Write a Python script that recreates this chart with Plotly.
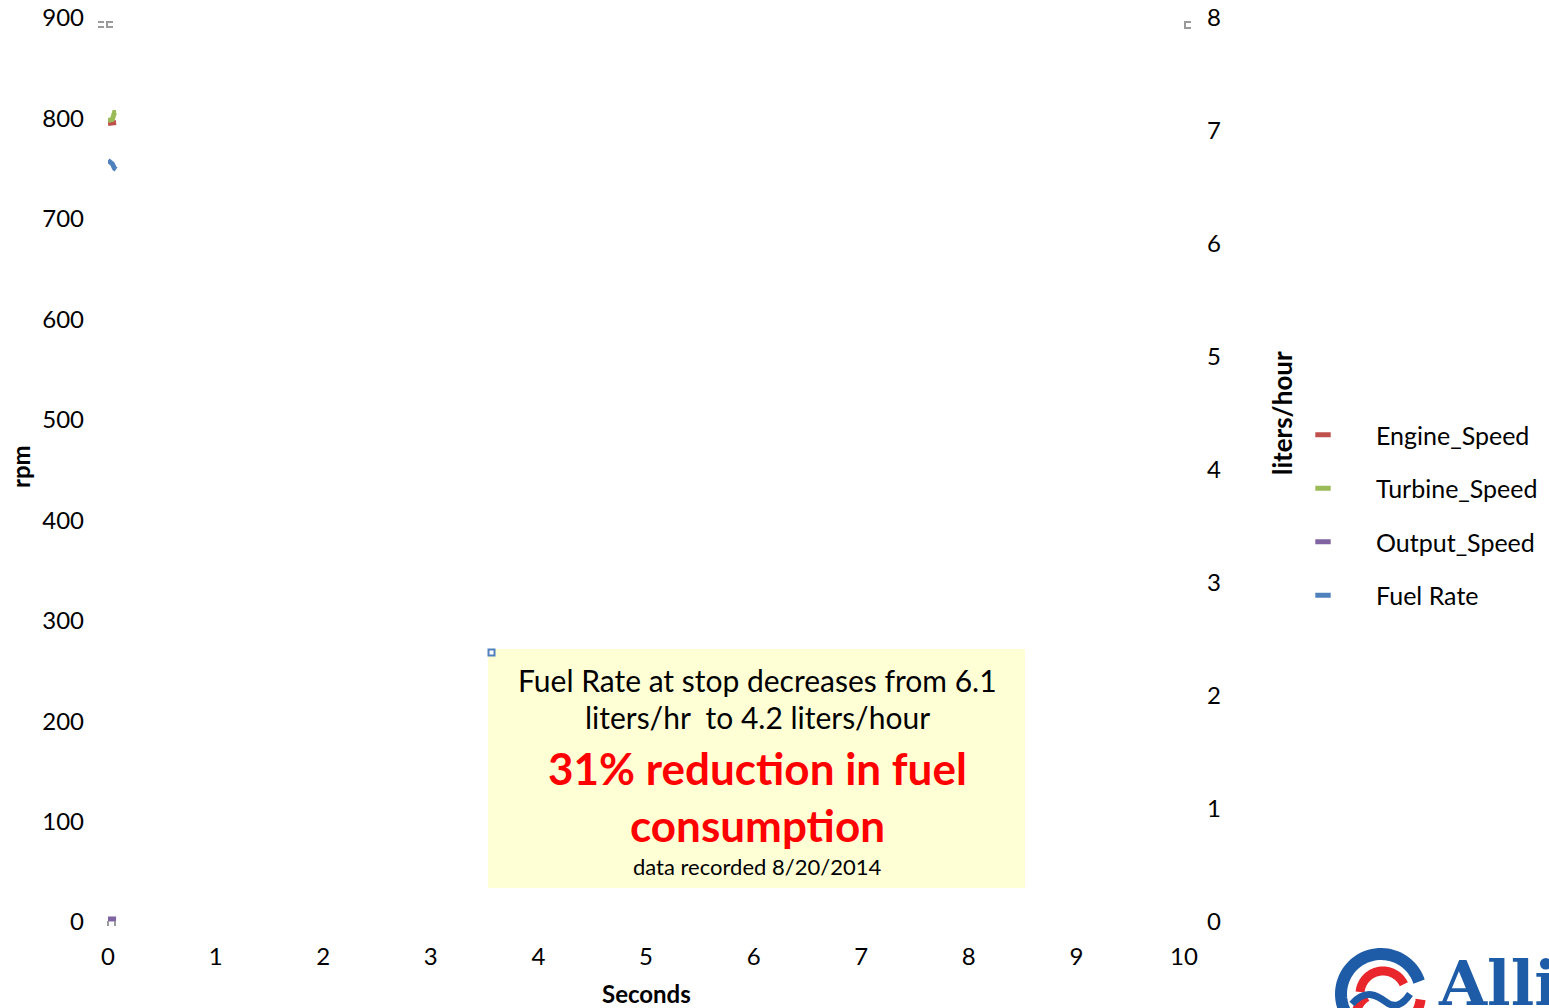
import numpy as np
import plotly.graph_objects as go

# ---- data -------------------------------------------------------------
seconds = [0.0, 0.02, 0.04, 0.06, 0.075]
engine_speed = [795, 795, 795, 796, 796]
turbine_speed = [798, 798, 799, 806, 806]
output_speed = [3, 3, 3, 3, 3]
fuel_rate = [6.74, 6.73, 6.71, 6.67, 6.66]

series_names = ["Engine_Speed", "Turbine_Speed", "Output_Speed", "Fuel Rate"]
series_colors = ["#C0504D", "#9BBB59", "#8064A2", "#4F81BD"]

rpm_ticks = list(range(0, 901, 100))
lph_ticks = list(range(0, 9))
sec_ticks = list(range(0, 11))

# ---- page geometry (pixels) ------------------------------------------
W, H = 1549, 1008
PL, PR, PT, PB = 108, 1184, 18, 922


def px(x):
    return (x - PL) / (PR - PL)


def py(y):
    return (PB - y) / (PB - PT)


FONT = "Lato"

fig = go.Figure()

values = [engine_speed, turbine_speed, output_speed, fuel_rate]
axes = ["y", "y", "y", "y2"]
for name, color, vals, ax in zip(series_names, series_colors, values, axes):
    fig.add_trace(go.Scatter(
        x=seconds, y=vals, name=name, yaxis=ax, mode="lines",
        line=dict(color=color, width=5), legendgroup=name,
        showlegend=False, hoverinfo="x+y+name",
    ))
    # short dash used as the legend key
    fig.add_trace(go.Scatter(
        x=[None], y=[None], name=name, yaxis=ax, mode="markers",
        marker=dict(symbol="line-ew", size=11,
                    line=dict(color=color, width=5)),
        legendgroup=name, showlegend=True,
    ))

axis_font = dict(family=FONT, size=24, color="#000000")

fig.update_layout(
    width=W, height=H,
    margin=dict(l=PL, r=W - PR, t=PT, b=H - PB, pad=0, autoexpand=False),
    paper_bgcolor="white", plot_bgcolor="white",
    font=dict(family=FONT, size=24, color="#000000"),
    xaxis=dict(range=[0, 10], tickvals=sec_ticks, showgrid=False,
               zeroline=False, showline=False, ticks="", automargin=False,
               tickfont=axis_font, ticklabelstandoff=18),
    yaxis=dict(range=[0, 900], tickvals=rpm_ticks, showgrid=False,
               zeroline=False, showline=False, ticks="", automargin=False,
               tickfont=axis_font, ticklabelstandoff=23),
    yaxis2=dict(range=[0, 8], tickvals=lph_ticks, overlaying="y",
                side="right", showgrid=False, zeroline=False,
                showline=False, ticks="", tickfont=axis_font,
                automargin=False, ticklabelstandoff=22),
    legend=dict(x=px(1270), y=py(412), xanchor="left", yanchor="top",
                font=dict(family=FONT, size=25, color="#000000"),
                itemwidth=96, traceorder="grouped", tracegroupgap=18,
                bgcolor="rgba(0,0,0,0)", borderwidth=0),
    showlegend=True,
)

annotations = [
    # axis titles
    dict(text="<b>rpm</b>", x=px(20), y=py(467), textangle=-90,
         font=dict(family=FONT, size=24)),
    dict(text="<b>liters/hour</b>", x=px(1282), y=py(413), textangle=-90,
         font=dict(family=FONT, size=26)),
    dict(text="<b>Seconds</b>", x=px(646), y=py(994),
         font=dict(family=FONT, size=24)),
    # call-out text
    dict(text="Fuel Rate at stop decreases from 6.1", x=px(757), y=py(680),
         font=dict(family=FONT, size=30)),
    dict(text="liters/hr  to 4.2 liters/hour", x=px(757), y=py(717),
         font=dict(family=FONT, size=30)),
    dict(text="<b>31% reduction in fuel</b>", x=px(757), y=py(768),
         font=dict(family=FONT, size=44, color="#FF0000")),
    dict(text="<b>consumption</b>", x=px(757), y=py(825),
         font=dict(family=FONT, size=44, color="#FF0000")),
    dict(text="data recorded 8/20/2014", x=px(757), y=py(866),
         font=dict(family=FONT, size=22)),
    # brand text
    dict(text="<b>Allison</b>", x=px(1436), y=py(983), xanchor="left",
         font=dict(family="DejaVu Serif", size=62, color="#1F5CA8")),
]
for a in annotations:
    a.setdefault("xanchor", "center")
    a.update(xref="paper", yref="paper", showarrow=False, yanchor="middle")
fig.update_layout(annotations=annotations)

shapes = []
# call-out box
shapes.append(dict(type="rect", xref="paper", yref="paper",
                   x0=px(488), x1=px(1025), y0=py(888), y1=py(649),
                   fillcolor="#FFFFD6", line=dict(width=0), layer="below"))
shapes.append(dict(type="rect", xref="paper", yref="paper",
                   x0=px(488.5), x1=px(494.5), y0=py(655.5), y1=py(649.5),
                   fillcolor="white", line=dict(color="#4F81BD", width=2)))


def poly_path(points):
    return "M " + " L ".join(f"{px(x):.5f},{py(y):.5f}" for x, y in points)


def arc_path(cx, cy, r, a0, a1, n=48):
    ang = np.radians(np.linspace(a0, a1, n))
    return poly_path(zip(cx + r * np.cos(ang), cy - r * np.sin(ang)))


# small gray handle marks
gray = dict(color="#9A9A9A", width=2)
for pts in [
    [(98, 22), (104, 22)], [(98, 27), (104, 27)],
    [(113, 22), (107, 22), (107, 27), (113, 27)],
    [(1191, 22), (1185, 22), (1185, 28), (1191, 28)],
    [(108, 921), (108, 926)], [(115, 921), (115, 926)],
]:
    shapes.append(dict(type="path", xref="paper", yref="paper",
                       path=poly_path(pts), line=gray))

# emblem
cx, cy = 1381, 994
shapes.append(dict(type="path", xref="paper", yref="paper",
                   path=arc_path(cx, cy, 40, 18, 215),
                   line=dict(color="#1F5CA8", width=12)))
shapes.append(dict(type="path", xref="paper", yref="paper",
                   path=arc_path(cx, cy, 40, -8, -70),
                   line=dict(color="#E8262B", width=10)))
shapes.append(dict(type="path", xref="paper", yref="paper",
                   path=arc_path(cx + 2, cy, 23, 25, 175),
                   line=dict(color="#E8262B", width=9)))
shapes.append(dict(type="path", xref="paper", yref="paper",
                   path=arc_path(cx - 3, cy + 22, 22, 120, 200),
                   line=dict(color="#E8262B", width=9)))
shapes.append(dict(type="path", xref="paper", yref="paper",
                   path=(f"M {px(1352):.5f},{py(1004):.5f} "
                         f"C {px(1366):.5f},{py(988):.5f} "
                         f"{px(1378):.5f},{py(996):.5f} "
                         f"{px(1386):.5f},{py(1002):.5f} "
                         f"S {px(1402):.5f},{py(1006):.5f} "
                         f"{px(1410):.5f},{py(994):.5f}"),
                   line=dict(color="#1F5CA8", width=7)))
fig.update_layout(shapes=shapes)

fig.write_html("out.html")
